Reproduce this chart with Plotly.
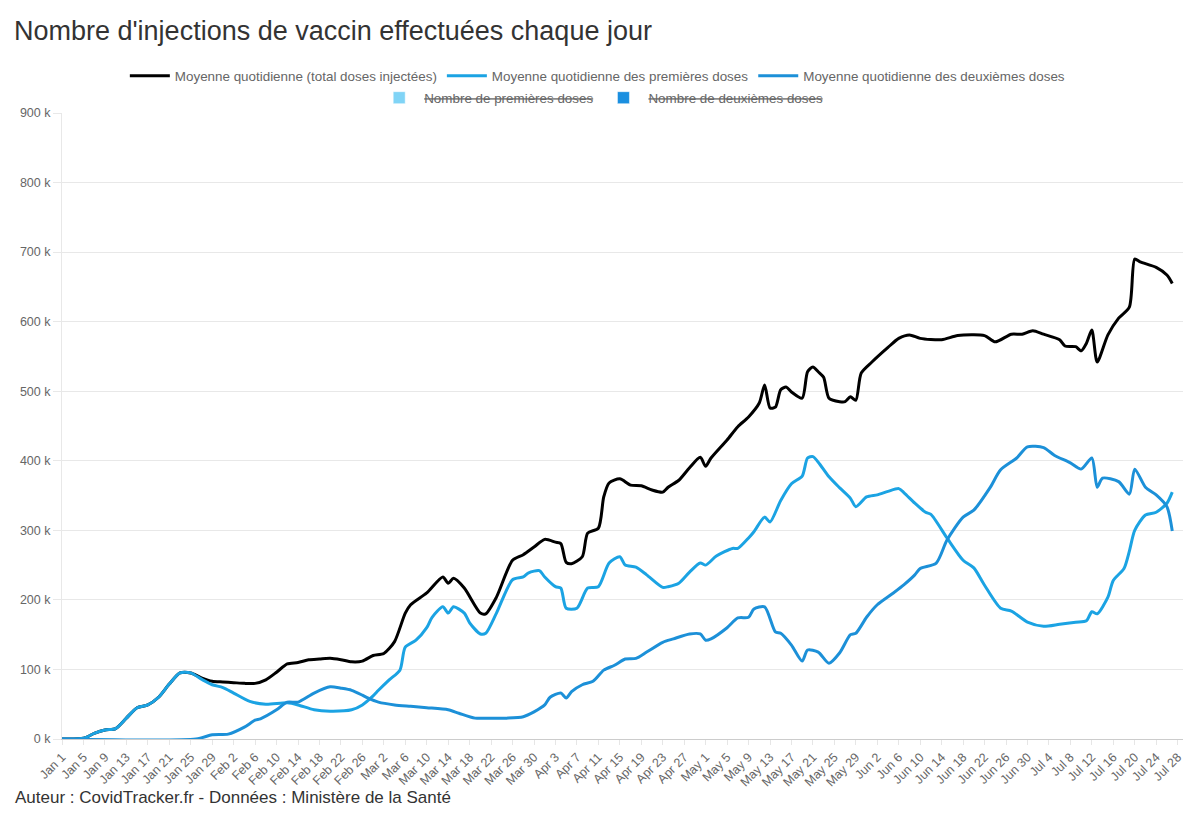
import pandas as pd
import plotly.graph_objects as go

# Moyenne quotidienne (total doses injectées), en milliers
dates_total = [
    "2021-01-01", "2021-01-05", "2021-01-07", "2021-01-09", "2021-01-11", "2021-01-13", "2021-01-15",
    "2021-01-17", "2021-01-19", "2021-01-21", "2021-01-23", "2021-01-25", "2021-01-27", "2021-01-29",
    "2021-01-31", "2021-02-02", "2021-02-04", "2021-02-06", "2021-02-08", "2021-02-10", "2021-02-12",
    "2021-02-14", "2021-02-16", "2021-02-18", "2021-02-20", "2021-02-22", "2021-02-24", "2021-02-26",
    "2021-02-28", "2021-03-02", "2021-03-04", "2021-03-06", "2021-03-07", "2021-03-10", "2021-03-13",
    "2021-03-14", "2021-03-15", "2021-03-17", "2021-03-20", "2021-03-21", "2021-03-23", "2021-03-26",
    "2021-03-28", "2021-03-30", "2021-04-01", "2021-04-03", "2021-04-04", "2021-04-05", "2021-04-06",
    "2021-04-08", "2021-04-09", "2021-04-11", "2021-04-12", "2021-04-13", "2021-04-15", "2021-04-17",
    "2021-04-19", "2021-04-21", "2021-04-23", "2021-04-24", "2021-04-26", "2021-04-28", "2021-04-30",
    "2021-05-01", "2021-05-02", "2021-05-05", "2021-05-07", "2021-05-09", "2021-05-11", "2021-05-12",
    "2021-05-13", "2021-05-14", "2021-05-15", "2021-05-16", "2021-05-17", "2021-05-19", "2021-05-20",
    "2021-05-21", "2021-05-22", "2021-05-23", "2021-05-24", "2021-05-26", "2021-05-27", "2021-05-28",
    "2021-05-29", "2021-05-30", "2021-06-01", "2021-06-04", "2021-06-06", "2021-06-08", "2021-06-10",
    "2021-06-14", "2021-06-17", "2021-06-22", "2021-06-24", "2021-06-27", "2021-06-29", "2021-07-01",
    "2021-07-03", "2021-07-06", "2021-07-07", "2021-07-09", "2021-07-10", "2021-07-11", "2021-07-12",
    "2021-07-13", "2021-07-15", "2021-07-17", "2021-07-19", "2021-07-20", "2021-07-21", "2021-07-24",
    "2021-07-26", "2021-07-27",
]
total = [
    0, 1, 8, 13, 15, 30, 45,
    49, 60, 79, 95, 95, 88, 83,
    82, 81, 80, 80, 85, 96, 108,
    110, 114, 115, 116, 114, 111, 112,
    120, 123, 140, 181, 193, 210, 233,
    224, 231, 217, 181, 180, 204, 257,
    265, 276, 287, 283, 281, 254, 252,
    262, 296, 303, 348, 368, 374, 365,
    364, 358, 355, 362, 372, 390, 405,
    392, 404, 430, 449, 463, 483, 509,
    476, 477, 502, 506, 499, 490, 528,
    535, 528, 520, 490, 485, 485, 492,
    487, 526, 542, 563, 576, 581, 576,
    574, 580, 580, 571, 582, 582, 587,
    582, 574, 565, 564, 558, 569, 588,
    542, 581, 605, 621, 690, 686, 678,
    667, 655,
]

# Moyenne quotidienne des premières doses
dates_premieres = [
    "2021-01-01", "2021-01-05", "2021-01-07", "2021-01-09", "2021-01-11", "2021-01-13", "2021-01-15",
    "2021-01-17", "2021-01-19", "2021-01-21", "2021-01-23", "2021-01-25", "2021-01-27", "2021-01-29",
    "2021-01-31", "2021-02-02", "2021-02-05", "2021-02-08", "2021-02-12", "2021-02-14", "2021-02-17",
    "2021-02-20", "2021-02-24", "2021-02-26", "2021-02-28", "2021-03-01", "2021-03-03", "2021-03-05",
    "2021-03-06", "2021-03-08", "2021-03-10", "2021-03-11", "2021-03-13", "2021-03-14", "2021-03-15",
    "2021-03-17", "2021-03-18", "2021-03-20", "2021-03-21", "2021-03-23", "2021-03-26", "2021-03-28",
    "2021-03-29", "2021-03-31", "2021-04-01", "2021-04-03", "2021-04-04", "2021-04-05", "2021-04-07",
    "2021-04-09", "2021-04-11", "2021-04-13", "2021-04-15", "2021-04-16", "2021-04-18", "2021-04-20",
    "2021-04-23", "2021-04-24", "2021-04-26", "2021-04-28", "2021-04-30", "2021-05-01", "2021-05-03",
    "2021-05-06", "2021-05-07", "2021-05-09", "2021-05-10", "2021-05-12", "2021-05-13", "2021-05-15",
    "2021-05-17", "2021-05-19", "2021-05-20", "2021-05-21", "2021-05-22", "2021-05-24", "2021-05-26",
    "2021-05-28", "2021-05-29", "2021-05-31", "2021-06-02", "2021-06-04", "2021-06-06", "2021-06-07",
    "2021-06-09", "2021-06-11", "2021-06-12", "2021-06-15", "2021-06-18", "2021-06-20", "2021-06-22",
    "2021-06-25", "2021-06-27", "2021-06-30", "2021-07-03", "2021-07-06", "2021-07-09", "2021-07-11",
    "2021-07-12", "2021-07-13", "2021-07-15", "2021-07-16", "2021-07-18", "2021-07-19", "2021-07-20",
    "2021-07-22", "2021-07-24", "2021-07-26", "2021-07-27",
]
premieres = [
    0, 1, 8, 13, 15, 30, 45,
    49, 60, 79, 95, 95, 86, 78,
    74, 66, 54, 50, 52, 49, 42,
    40, 42, 49, 62, 70, 85, 99,
    132, 142, 160, 175, 190, 181, 190,
    181, 167, 151, 152, 181, 229, 233,
    239, 242, 233, 219, 217, 188, 188,
    217, 219, 253, 262, 250, 247, 236,
    218, 219, 224, 240, 253, 250, 263,
    274, 274, 289, 298, 319, 312, 343,
    367, 378, 404, 406, 398, 377, 361,
    346, 334, 348, 351, 356, 360, 354,
    339, 326, 323, 289, 257, 246, 221,
    188, 184, 168, 162, 165, 168, 170,
    183, 180, 204, 228, 245, 270, 300,
    322, 326, 339, 355,
]

# Moyenne quotidienne des deuxièmes doses
dates_deuxiemes = [
    "2021-01-01", "2021-01-26", "2021-01-29", "2021-02-01", "2021-02-04", "2021-02-06", "2021-02-07",
    "2021-02-10", "2021-02-12", "2021-02-14", "2021-02-17", "2021-02-20", "2021-02-22", "2021-02-24",
    "2021-02-26", "2021-02-27", "2021-03-01", "2021-03-04", "2021-03-07", "2021-03-10", "2021-03-14",
    "2021-03-16", "2021-03-19", "2021-03-22", "2021-03-25", "2021-03-28", "2021-03-30", "2021-04-01",
    "2021-04-02", "2021-04-04", "2021-04-05", "2021-04-06", "2021-04-08", "2021-04-10", "2021-04-12",
    "2021-04-14", "2021-04-16", "2021-04-18", "2021-04-20", "2021-04-23", "2021-04-25", "2021-04-28",
    "2021-04-30", "2021-05-01", "2021-05-02", "2021-05-05", "2021-05-07", "2021-05-09", "2021-05-10",
    "2021-05-12", "2021-05-14", "2021-05-15", "2021-05-17", "2021-05-19", "2021-05-20", "2021-05-22",
    "2021-05-24", "2021-05-26", "2021-05-28", "2021-05-29", "2021-05-31", "2021-06-02", "2021-06-05",
    "2021-06-07", "2021-06-09", "2021-06-10", "2021-06-13", "2021-06-15", "2021-06-18", "2021-06-20",
    "2021-06-23", "2021-06-25", "2021-06-28", "2021-06-30", "2021-07-03", "2021-07-05", "2021-07-08",
    "2021-07-10", "2021-07-12", "2021-07-13", "2021-07-14", "2021-07-17", "2021-07-19", "2021-07-20",
    "2021-07-22", "2021-07-24", "2021-07-26", "2021-07-27",
]
deuxiemes = [
    0, 0, 6, 7, 17, 27, 29,
    42, 53, 53, 66, 75, 73, 70,
    63, 59, 53, 49, 47, 45, 42,
    37, 30, 30, 30, 32, 39, 49,
    60, 66, 59, 68, 78, 83, 99,
    106, 115, 116, 125, 139, 144, 151,
    151, 142, 144, 160, 174, 175, 187,
    190, 154, 152, 135, 112, 128, 125,
    109, 124, 150, 152, 175, 193, 210,
    222, 236, 245, 253, 286, 319, 329,
    361, 387, 404, 420, 419, 408, 397,
    388, 404, 362, 375, 370, 352, 388,
    362, 351, 334, 299,
]

ticks_x = pd.date_range("2021-01-01", "2021-07-28", freq="4D")

fig = go.Figure()

lignes = [
    ("Moyenne quotidienne (total doses injectées)", dates_total, total, "#000000"),
    ("Moyenne quotidienne des premières doses", dates_premieres, premieres, "#1ba3e3"),
    ("Moyenne quotidienne des deuxièmes doses", dates_deuxiemes, deuxiemes, "#1c90d8"),
]
for nom, x, y, couleur in lignes:
    fig.add_trace(go.Scatter(
        x=x, y=y, name=nom, mode="lines",
        line=dict(color=couleur, width=3, shape="spline", smoothing=0.7),
        legend="legend",
    ))

# séries masquées (barres journalières) : seulement dans la légende
fig.add_trace(go.Bar(x=[None], y=[None], name="<s>Nombre de premières doses</s>",
                     marker_color="#80d4f6", legend="legend2"))
fig.add_trace(go.Bar(x=[None], y=[None], name="<s>Nombre de deuxièmes doses</s>",
                     marker_color="#1a8fe0", legend="legend2"))

police = "Liberation Sans, Arial, sans-serif"

# la page ajoute 8 px de marge autour de la figure
fig.update_layout(
    template="plotly_white",
    font=dict(family=police, size=12, color="#666666"),
    paper_bgcolor="white",
    plot_bgcolor="white",
    margin=dict(l=54, r=9, t=105, b=86),
    title=dict(
        text="Nombre d'injections de vaccin effectuées chaque jour",
        x=0.005, xref="container", xanchor="left",
        y=0.973, yref="container", yanchor="middle",
        font=dict(family=police, size=27, color="#333333"),
    ),
    legend=dict(
        orientation="h", x=0.478, xanchor="center", y=1.059, yanchor="middle",
        font=dict(size=13.4, color="#666666"), itemwidth=40, bgcolor="rgba(0,0,0,0)",
    ),
    legend2=dict(
        orientation="h", x=0.481, xanchor="center", y=1.024, yanchor="middle",
        font=dict(size=13.4, color="#666666"), itemwidth=40, bgcolor="rgba(0,0,0,0)",
    ),
    showlegend=True,
    hovermode="x",
)

fig.update_xaxes(
    type="date",
    range=["2021-01-01", "2021-07-29"],
    tickvals=ticks_x,
    tickformat="%b %-d",
    tickangle=-45,
    tickfont=dict(size=12.5, color="#666666"),
    showgrid=False,
    showline=True, linecolor="#cccccc", linewidth=1,
    ticks="outside", ticklen=5, tickcolor="#e6e6e6",
    zeroline=False,
)
fig.update_yaxes(
    range=[0, 900],
    dtick=100,
    ticksuffix=" k",
    tickfont=dict(size=12.5, color="#666666"),
    gridcolor="#e8e8e8",
    showline=True, linecolor="#e8e8e8",
    ticks="outside", ticklen=8, tickcolor="#e8e8e8",
    zeroline=False,
)

fig.add_annotation(
    text="Auteur : CovidTracker.fr - Données : Ministère de la Santé",
    xref="paper", yref="paper", x=0, xshift=-49, xanchor="left",
    y=-0.093, yanchor="middle", showarrow=False,
    font=dict(family=police, size=17, color="#333333"),
)

fig.write_html("out.html")
